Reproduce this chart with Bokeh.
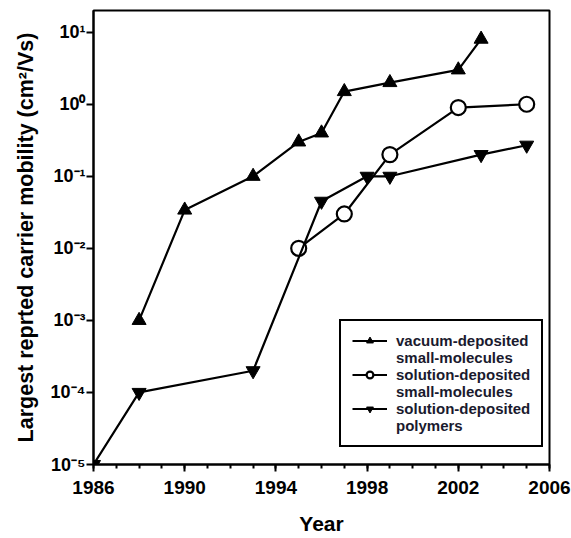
from bokeh.plotting import figure
from bokeh.models import Range1d, FixedTicker, Legend, LegendItem, CustomJSTickFormatter
from bokeh.embed import file_html
from bokeh.resources import INLINE

# Largest reported carrier mobility by year (cm^2/Vs)
vac_years = [1988, 1990, 1993, 1995, 1996, 1997, 1999, 2002, 2003]
vac_mob = [1e-3, 0.034, 0.1, 0.3, 0.4, 1.5, 2.0, 3.0, 8.0]

sol_small_years = [1995, 1997, 1999, 2002, 2005]
sol_small_mob = [0.01, 0.03, 0.2, 0.9, 1.0]

sol_poly_years = [1986, 1988, 1993, 1996, 1998, 1999, 2003, 2005]
sol_poly_mob = [1e-5, 1e-4, 2e-4, 0.045, 0.1, 0.1, 0.2, 0.27]

x_ticks = [1986, 1990, 1994, 1998, 2002, 2006]
y_ticks = [1e-5, 1e-4, 1e-3, 1e-2, 1e-1, 1e0, 1e1]

series_labels = [
    ("vacuum-deposited", "small-molecules"),
    ("solution-deposited", "small-molecules"),
    ("solution-deposited", "polymers"),
]

FONT = "Liberation Sans"

p = figure(width=571, height=538, y_axis_type="log",
           x_range=Range1d(1986, 2006), y_range=Range1d(1e-5, 20),
           output_backend="svg", toolbar_location=None,
           min_border_left=93, min_border_right=22,
           min_border_top=10, min_border_bottom=74)

p.grid.visible = False
p.outline_line_color = "black"
p.outline_line_width = 2
p.outline_line_alpha = 1

# x axis
p.xaxis.ticker = FixedTicker(ticks=x_ticks, minor_ticks=list(range(1986, 2007)))
p.xaxis.axis_label = "Year"
p.xaxis.axis_label_text_font = FONT
p.xaxis.axis_label_text_font_style = "bold"
p.xaxis.axis_label_text_font_size = "21px"
p.xaxis.axis_label_standoff = 15
p.xaxis.major_label_text_font = FONT
p.xaxis.major_label_text_font_style = "bold"
p.xaxis.major_label_text_font_size = "19px"
p.xaxis.major_label_standoff = 9

# y axis with 10^n labels
p.yaxis.ticker = FixedTicker(ticks=y_ticks, minor_ticks=[])
p.yaxis.formatter = CustomJSTickFormatter(code="""
    const sup = {'-': '\u207b', '0': '\u2070', '1': '\u00b9', '2': '\u00b2', '3': '\u00b3',
                 '4': '\u2074', '5': '\u2075', '6': '\u2076', '7': '\u2077', '8': '\u2078', '9': '\u2079'};
    const e = String(Math.round(Math.log10(tick)));
    return '10' + e.split('').map(c => sup[c]).join('');
""")
p.yaxis.axis_label = "Largest reprted carrier mobility (cm\u00b2/Vs)"
p.yaxis.axis_label_text_font = FONT
p.yaxis.axis_label_text_font_style = "bold"
p.yaxis.axis_label_text_font_size = "21.5px"
p.yaxis.axis_label_standoff = 10
p.yaxis.major_label_text_font = FONT
p.yaxis.major_label_text_font_style = "bold"
p.yaxis.major_label_text_font_size = "18px"
p.yaxis.major_label_standoff = 1

for ax in (p.xaxis, p.yaxis):
    ax.axis_line_width = 2
    ax.axis_line_color = "black"
    ax.major_tick_line_width = 2
    ax.major_tick_line_color = "black"
    ax.major_tick_in = 0
    ax.major_tick_out = 7
    ax.minor_tick_line_width = 2
    ax.minor_tick_line_color = "black"
    ax.minor_tick_in = 0
    ax.minor_tick_out = 4
    ax.axis_label_text_color = "black"
    ax.major_label_text_color = "black"

# series
l1 = p.line(vac_years, vac_mob, line_color="black", line_width=2.2)
m1 = p.scatter(vac_years, vac_mob, marker="triangle", size=14,
               fill_color="black", line_color="black")

l2 = p.line(sol_small_years, sol_small_mob, line_color="black", line_width=2.2)
m2 = p.scatter(sol_small_years, sol_small_mob, marker="circle", size=15,
               fill_color="white", line_color="black", line_width=2.2)

l3 = p.line(sol_poly_years, sol_poly_mob, line_color="black", line_width=2.2)
m3 = p.scatter(sol_poly_years, sol_poly_mob, marker="inverted_triangle", size=14,
               fill_color="black", line_color="black")

# empty, transparent renderer so the second line of each label has no glyph
blank = p.line([], [], line_alpha=0)

items = []
for (first, second), rends in zip(series_labels, [[l1, m1], [l2, m2], [l3, m3]]):
    items.append(LegendItem(label=first, renderers=rends))
    items.append(LegendItem(label=second, renderers=[blank]))

legend = Legend(items=items, location=(246, 17))
legend.border_line_color = "black"
legend.border_line_alpha = 1
legend.border_line_width = 2
legend.background_fill_alpha = 1
legend.label_text_font = FONT
legend.label_text_font_style = "bold"
legend.label_text_font_size = "15px"
legend.label_text_color = "#1a1a2e"
legend.label_height = 17
legend.glyph_height = 17
legend.glyph_width = 35
legend.spacing = 0
legend.padding = 11
legend.margin = 0
legend.label_standoff = 9
p.add_layout(legend)

open("out.html", "w").write(file_html(p, INLINE))
